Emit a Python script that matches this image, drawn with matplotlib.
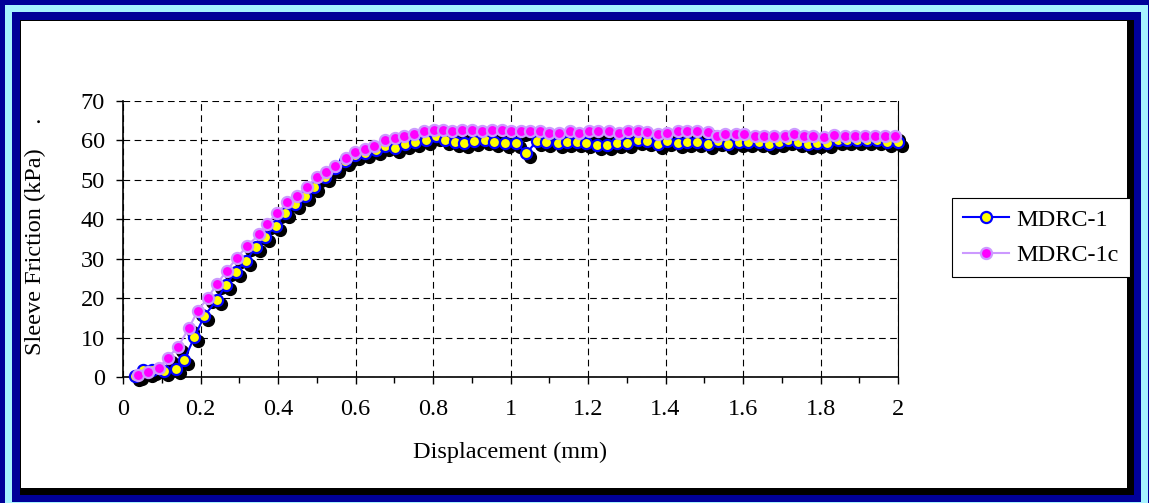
import matplotlib
matplotlib.use("Agg")
import matplotlib.pyplot as plt
from matplotlib.patches import Rectangle
from matplotlib.transforms import offset_copy

# MDRC-1 (yellow markers, blue line)
disp_1 = [0.030, 0.052, 0.074, 0.107, 0.137, 0.158, 0.184, 0.210, 0.242, 0.265,
          0.291, 0.317, 0.343, 0.367, 0.395, 0.417, 0.445, 0.470, 0.494, 0.521,
          0.547, 0.572, 0.599, 0.625, 0.652, 0.676, 0.702, 0.728, 0.754, 0.781,
          0.808, 0.831, 0.857, 0.881, 0.907, 0.934, 0.958, 0.986, 1.014, 1.041,
          1.068, 1.091, 1.123, 1.145, 1.171, 1.195, 1.222, 1.250, 1.276, 1.300,
          1.330, 1.353, 1.381, 1.405, 1.432, 1.456, 1.481, 1.509, 1.535, 1.560,
          1.590, 1.614, 1.640, 1.668, 1.694, 1.717, 1.743, 1.769, 1.792, 1.818,
          1.844, 1.869, 1.893, 1.921, 1.945, 1.972, 2.000]
fric_1 = [0.2, 1.9, 1.8, 1.6, 2.0, 4.3, 10.1, 15.5, 19.5, 23.3,
          26.7, 29.5, 32.9, 35.6, 38.3, 41.5, 43.8, 45.9, 48.1, 50.8,
          53.0, 54.8, 56.3, 56.8, 57.6, 58.5, 58.0, 59.1, 59.7, 60.2,
          61.0, 60.2, 59.7, 59.3, 59.9, 60.2, 59.6, 59.3, 59.4, 56.7,
          59.9, 59.7, 59.3, 59.5, 59.7, 59.3, 58.9, 58.9, 59.3, 59.3,
          60.2, 59.8, 59.0, 59.8, 59.4, 59.7, 59.6, 59.1, 59.8, 59.1,
          59.5, 59.5, 59.7, 59.1, 59.7, 60.2, 59.7, 59.1, 59.3, 59.3,
          60.0, 60.2, 60.0, 60.2, 60.0, 59.5, 59.7]

# MDRC-1c (magenta markers, violet line)
disp_1c = [0.038, 0.065, 0.093, 0.115, 0.141, 0.170, 0.193, 0.219, 0.242, 0.268,
           0.293, 0.319, 0.352, 0.371, 0.397, 0.424, 0.448, 0.474, 0.501, 0.524,
           0.547, 0.575, 0.599, 0.625, 0.648, 0.676, 0.702, 0.725, 0.751, 0.777,
           0.803, 0.827, 0.850, 0.876, 0.900, 0.927, 0.953, 0.977, 1.001, 1.026,
           1.050, 1.076, 1.100, 1.126, 1.154, 1.177, 1.203, 1.227, 1.254, 1.281,
           1.304, 1.330, 1.353, 1.381, 1.405, 1.431, 1.456, 1.482, 1.509, 1.532,
           1.554, 1.582, 1.603, 1.631, 1.654, 1.681, 1.708, 1.732, 1.758, 1.781,
           1.809, 1.836, 1.863, 1.889, 1.915, 1.941, 1.966, 1.992]
fric_1c = [0.5, 1.2, 2.2, 4.9, 7.5, 12.4, 16.8, 20.1, 23.5, 27.0,
           30.1, 33.1, 36.2, 38.8, 41.5, 44.3, 46.0, 48.3, 50.6, 51.9,
           53.6, 55.5, 57.0, 57.8, 58.6, 60.0, 60.6, 61.2, 61.7, 62.3,
           62.7, 62.7, 62.3, 62.7, 62.7, 62.3, 62.7, 62.7, 62.3, 62.3,
           62.3, 62.3, 61.9, 61.9, 62.3, 61.9, 62.3, 62.3, 62.3, 61.9,
           62.3, 62.3, 62.2, 61.7, 61.9, 62.3, 62.3, 62.3, 62.1, 61.2,
           61.7, 61.7, 61.7, 61.2, 61.2, 61.2, 61.2, 61.7, 61.2, 61.2,
           60.8, 61.3, 61.2, 61.2, 61.2, 61.2, 61.2, 61.2]

x_ticks = [0, 0.2, 0.4, 0.6, 0.8, 1.0, 1.2, 1.4, 1.6, 1.8, 2.0]
x_labels = ["0", "0.2", "0.4", "0.6", "0.8", "1", "1.2", "1.4", "1.6", "1.8", "2"]
y_ticks = [0, 10, 20, 30, 40, 50, 60, 70]

W, H = 1149, 503
FS = 17.5
plt.rcParams['font.family'] = ['Liberation Serif', 'DejaVu Serif']

fig = plt.figure(figsize=(W / 100, H / 100), dpi=100)


def frame_rect(x0, y0, x1, y1, color):
    # pixel box (top-left origin) -> figure fraction rectangle
    fig.add_artist(Rectangle((x0 / W, 1 - y1 / H), (x1 - x0) / W, (y1 - y0) / H,
                             transform=fig.transFigure, facecolor=color,
                             edgecolor='none', zorder=-10))


# blue / cyan frame with a black shadow, like the spreadsheet chart border
frame_rect(0, 0, W, H, '#000099')
frame_rect(5, 5, 1148, H + 5, '#A6F2FF')
frame_rect(12, 12, 1141, 502, '#000099')
frame_rect(20, 20, 1134, 495, 'black')
frame_rect(21, 21, 1127, 488, 'white')

ax = fig.add_axes([123 / W, 1 - 377 / H, 775 / W, 276 / H])
ax.set_facecolor('none')

shadow = offset_copy(ax.transData, fig=fig, x=4, y=-4, units='dots')
for xs, ys in [(disp_1, fric_1), (disp_1c, fric_1c)]:
    ax.plot(xs, ys, linestyle='none', marker='o', ms=8.5, mfc='black', mec='black',
            transform=shadow, clip_on=False, zorder=2)

ax.plot(disp_1, fric_1, color='#0000FF', lw=1.5, marker='o', ms=8,
        mfc='#FFFF00', mec='#0000FF', mew=1.6, label='MDRC-1', zorder=3)
ax.plot(disp_1c, fric_1c, color='#CC99FF', lw=1.5, marker='o', ms=8,
        mfc='#FF00FF', mec='#CC99FF', mew=1.6, label='MDRC-1c', zorder=4)
for ln in ax.lines:
    ln.set_clip_on(False)

ax.set_xlim(0, 2)
ax.set_ylim(0, 70)
ax.set_xticks(x_ticks)
ax.set_xticklabels(x_labels)
ax.set_xticks([0.1, 0.3, 0.5, 0.7, 0.9, 1.1, 1.3, 1.5, 1.7, 1.9], minor=True)
ax.set_yticks(y_ticks)

ax.grid(True, which='major', color='black', linestyle=(0, (6, 4)), linewidth=0.8)
ax.set_axisbelow(True)
ax.spines['top'].set_visible(False)
ax.spines['right'].set_linewidth(0.8)
ax.spines['left'].set_linewidth(1.2)
ax.spines['bottom'].set_linewidth(1.2)

ax.tick_params(axis='both', which='major', direction='out', length=5, width=1,
               labelsize=FS)
ax.tick_params(axis='x', which='major', pad=11)
ax.tick_params(axis='y', which='major', pad=8)
ax.tick_params(axis='x', which='minor', direction='out', length=4, width=1)

fig.text(510 / W, 1 - 452 / H, 'Displacement (mm)', fontsize=FS,
         ha='center', va='center')
fig.text(35 / W, 1 - 236 / H, 'Sleeve Friction (kPa)    .', fontsize=FS,
         rotation=90, ha='center', va='center')

leg = ax.legend(loc='upper left', bbox_to_anchor=(952 / W, 1 - 198 / H),
                bbox_transform=fig.transFigure, borderaxespad=0, fontsize=FS,
                frameon=True, fancybox=False, edgecolor='black', framealpha=1,
                handlelength=1.9, borderpad=0.45, labelspacing=0.55,
                handletextpad=0.3)
leg.get_frame().set_linewidth(0.8)

fig.savefig('out.png', dpi=100)
